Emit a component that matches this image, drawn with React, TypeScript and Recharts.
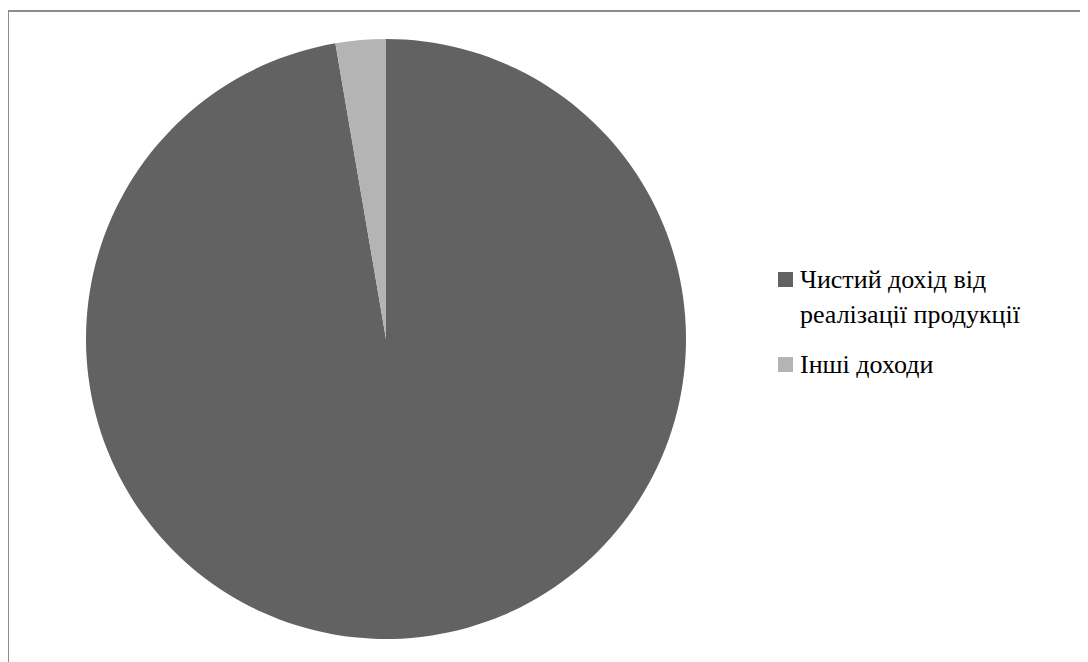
import React from "react";
import { PieChart, Pie, Cell } from "recharts";

const categories = ["Чистий дохід від реалізації продукції", "Інші доходи"];
const shares = [97.3, 2.7];
const COLORS = ["#626262", "#b4b4b4"];

const data = categories.map((name, i) => ({ name, value: shares[i] }));

const SERIF = "Liberation Serif";

function ChartLegend() {
  return (
    <div style={{ position: "absolute", left: 770, top: 254, width: 310, lineHeight: "35px", color: "#000" }}>
      {data.map((entry, i) => (
        <div key={i} style={{ position: "relative", marginBottom: 15 }}>
          <div
            style={{
              position: "absolute",
              left: 0,
              top: 10,
              width: 15,
              height: 15,
              background: COLORS[i],
            }}
          />
          <div style={{ marginLeft: 22, width: 265, fontFamily: SERIF, fontSize: 26 }}>{entry.name}</div>
        </div>
      ))}
    </div>
  );
}

export default function App() {
  return (
    <div style={{ position: "relative", width: 1080, height: 654, overflow: "hidden", background: "#fff" }}>
      <div
        style={{
          position: "absolute",
          left: -1,
          top: 2,
          width: 1120,
          height: 700,
          border: "2px solid #8c8c8c",
          boxSizing: "border-box",
        }}
      />
      <div style={{ position: "absolute", left: 0, top: 0 }}>
        <PieChart width={1080} height={654} margin={{ top: 0, right: 0, bottom: 0, left: 0 }}>
          <Pie
            data={data}
            dataKey="value"
            nameKey="name"
            cx={378}
            cy={331}
            outerRadius={300}
            startAngle={90}
            endAngle={-270}
            stroke="none"
            isAnimationActive={false}
          >
            {data.map((_, i) => (
              <Cell key={i} fill={COLORS[i % COLORS.length]} />
            ))}
          </Pie>
        </PieChart>
      </div>
      <ChartLegend />
    </div>
  );
}
